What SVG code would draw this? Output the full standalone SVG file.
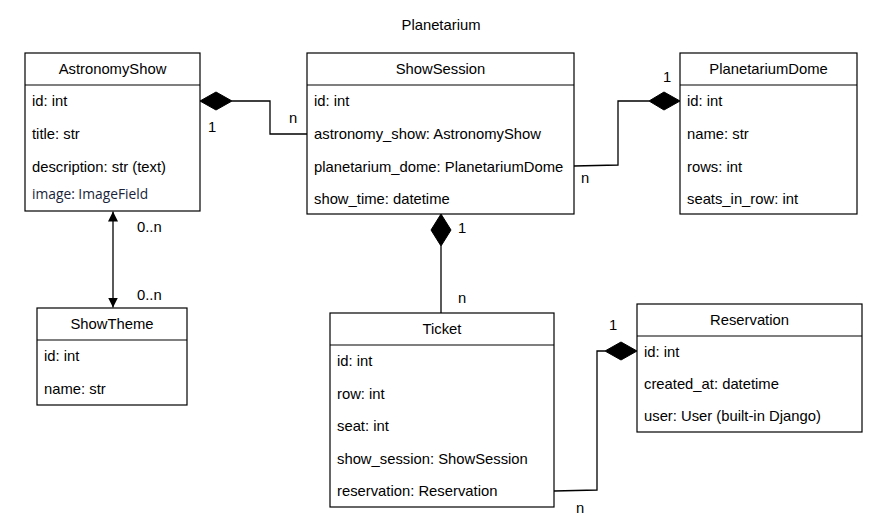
<svg xmlns="http://www.w3.org/2000/svg" width="890" height="526" viewBox="0 0 890 526">
<defs>
<style>
text{font-family:"Liberation Sans",Arial,sans-serif;font-size:14.8px;fill:#000}
.h{text-anchor:middle}
.box{fill:#fff;stroke:#000;stroke-width:1.2}
.sep{stroke:#000;stroke-width:1.2}
.edge{fill:none;stroke:#000;stroke-width:1.3}
.dia{fill:#000;stroke:#000;stroke-width:1}
.cal{font-family:"Open Sans","Noto Sans",sans-serif;font-size:13.8px;fill:#1a1f3a}
</style>
<marker id="tri" viewBox="0 0 10 10" refX="10" refY="5" markerWidth="10" markerHeight="11" markerUnits="userSpaceOnUse" orient="auto-start-reverse">
<path d="M0,0 L10,5 L0,10 Z" fill="#000"/>
</marker>
</defs>
<rect width="890" height="526" fill="#fff"/>
<text class="h" x="441" y="30">Planetarium</text>

<g id="connectors">
<path class="edge" d="M232,101 H270 V134 H307"/>
<polygon class="dia" points="200,101 216,92 232,101 216,110"/>
<text x="208" y="132">1</text>
<text x="289" y="123">n</text>

<path class="edge" d="M574,166 L618,165 V101 H649"/>
<polygon class="dia" points="680,101 664,92 649,101 664,110"/>
<text x="663" y="82">1</text>
<text x="581" y="183">n</text>

<path class="edge" d="M441,246 V313"/>
<polygon class="dia" points="441,214 451,230 441,246 431,230"/>
<text x="458" y="233">1</text>
<text x="458" y="303">n</text>

<path class="edge" d="M554,491 L597,490 V351 H605"/>
<polygon class="dia" points="637,351 621,342 605,351 621,360"/>
<text x="609" y="330">1</text>
<text x="576" y="513">n</text>

<path class="edge" d="M113,211.5 V307.5" marker-start="url(#tri)" marker-end="url(#tri)"/>
<text x="137" y="232">0..n</text>
<text x="137" y="300">0..n</text>
</g>

<g id="AstronomyShow">
<rect class="box" x="25" y="53" width="175" height="158"/>
<line class="sep" x1="25" y1="85" x2="200" y2="85"/>
<text class="h" x="112.5" y="74">AstronomyShow</text>
<text x="32" y="106">id: int</text>
<text x="32" y="139">title: str</text>
<text x="32" y="172">description: str (text)</text>
<text class="cal" x="32" y="199">image: ImageField</text>
</g>

<g id="ShowSession">
<rect class="box" x="307" y="53" width="267" height="161"/>
<line class="sep" x1="307" y1="85" x2="574" y2="85"/>
<text class="h" x="440.5" y="74">ShowSession</text>
<text x="314" y="106">id: int</text>
<text x="314" y="139">astronomy_show: AstronomyShow</text>
<text x="314" y="172">planetarium_dome: PlanetariumDome</text>
<text x="314" y="204">show_time: datetime</text>
</g>

<g id="PlanetariumDome">
<rect class="box" x="680" y="53" width="177" height="161"/>
<line class="sep" x1="680" y1="85" x2="857" y2="85"/>
<text class="h" x="768.5" y="74">PlanetariumDome</text>
<text x="687" y="106">id: int</text>
<text x="687" y="139">name: str</text>
<text x="687" y="172">rows: int</text>
<text x="687" y="204">seats_in_row: int</text>
</g>

<g id="ShowTheme">
<rect class="box" x="37" y="308" width="150" height="97"/>
<line class="sep" x1="37" y1="340" x2="187" y2="340"/>
<text class="h" x="112" y="329">ShowTheme</text>
<text x="44" y="361">id: int</text>
<text x="44" y="394">name: str</text>
</g>

<g id="Ticket">
<rect class="box" x="330" y="313" width="224" height="194"/>
<line class="sep" x1="330" y1="345" x2="554" y2="345"/>
<text class="h" x="442" y="334">Ticket</text>
<text x="337" y="366">id: int</text>
<text x="337" y="399">row: int</text>
<text x="337" y="431">seat: int</text>
<text x="337" y="464">show_session: ShowSession</text>
<text x="337" y="496">reservation: Reservation</text>
</g>

<g id="Reservation">
<rect class="box" x="637" y="304" width="225" height="128"/>
<line class="sep" x1="637" y1="336" x2="862" y2="336"/>
<text class="h" x="749.5" y="325">Reservation</text>
<text x="644" y="357">id: int</text>
<text x="644" y="389">created_at: datetime</text>
<text x="644" y="421">user: User (built-in Django)</text>
</g>
</svg>
